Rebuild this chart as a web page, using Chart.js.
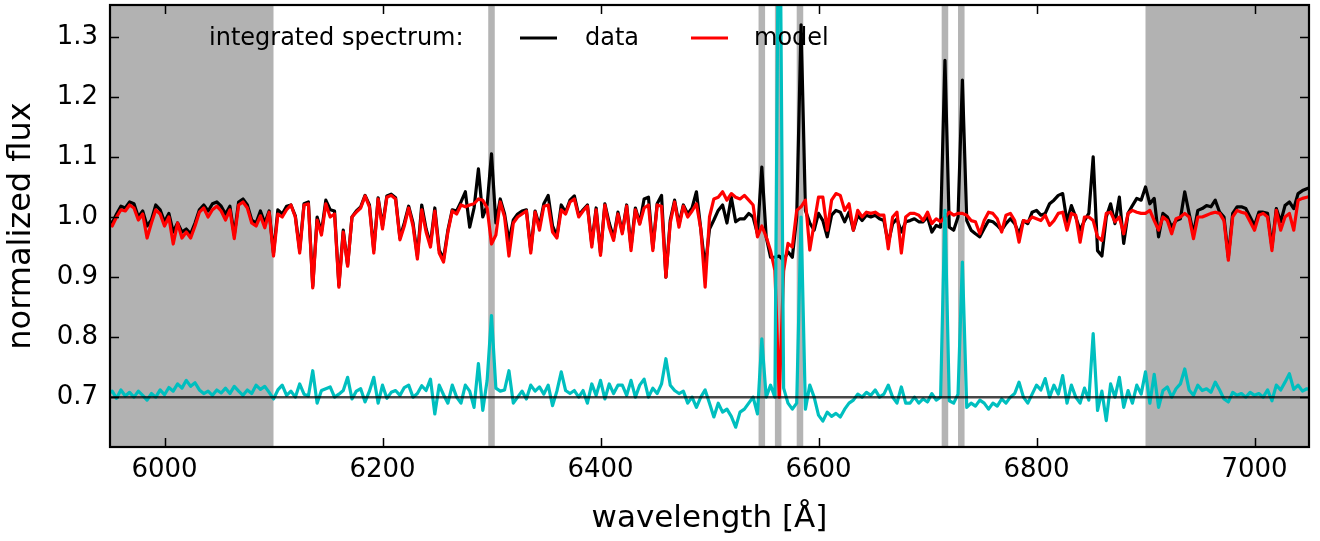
<!DOCTYPE html>
<html><head><meta charset="utf-8">
<script src="https://cdn.jsdelivr.net/npm/chart.js@4/dist/chart.umd.min.js"></script>
<style>html,body{margin:0;padding:0;background:#fff;}canvas{display:block;}</style>
</head><body>
<canvas id="c" width="1320" height="541"></canvas>
<script>
// wavelength grid [Angstrom]
const wavelength = [
5948,5952,5956,5960,5964,5968,5972,5976,5980,5984,5988,5992,5996,6000,6004,6008,6012,6016,6020,6024,6028,6032,6036,6040,6044,
6048,6052,6056,6060,6064,6068,6072,6076,6080,6084,6088,6092,6096,6100,6104,6108,6112,6116,6120,6124,6128,6132,6136,6140,6144,
6148,6152,6156,6160,6164,6168,6172,6176,6180,6184,6188,6192,6196,6200,6204,6208,6212,6216,6220,6224,6228,6232,6236,6240,6244,
6248,6252,6256,6260,6264,6268,6272,6276,6280,6284,6288,6292,6296,6300,6304,6308,6312,6316,6320,6324,6328,6332,6336,6340,6344,
6348,6352,6356,6360,6364,6368,6372,6376,6380,6384,6388,6392,6396,6400,6404,6408,6412,6416,6420,6424,6428,6432,6436,6440,6444,
6448,6452,6456,6460,6464,6468,6472,6476,6480,6484,6488,6492,6496,6500,6504,6508,6512,6516,6520,6524,6528,6532,6536,6540,6544,
6548,6552,6556,6560,6564,6568,6572,6576,6580,6584,6588,6592,6596,6600,6604,6608,6612,6616,6620,6624,6628,6632,6636,6640,6644,
6648,6652,6656,6660,6664,6668,6672,6676,6680,6684,6688,6692,6696,6700,6704,6708,6712,6716,6720,6724,6728,6732,6736,6740,6744,
6748,6752,6756,6760,6764,6768,6772,6776,6780,6784,6788,6792,6796,6800,6804,6808,6812,6816,6820,6824,6828,6832,6836,6840,6844,
6848,6852,6856,6860,6864,6868,6872,6876,6880,6884,6888,6892,6896,6900,6904,6908,6912,6916,6920,6924,6928,6932,6936,6940,6944,
6948,6952,6956,6960,6964,6968,6972,6976,6980,6984,6988,6992,6996,7000,7004,7008,7012,7016,7020,7024,7028,7032,7036,7040,7044,
7048,7052];

// observed integrated spectrum (black)
const dataFlux = [
0.995,0.99,1.005,1.018,1.015,1.025,1.022,1.0,1.01,0.985,0.995,1.02,1.012,0.992,1.006,0.975,0.99,0.975,0.98,0.972,0.99,1.012,1.02,1.01,1.022,
1.025,1.018,1.005,1.018,0.97,1.025,1.03,1.02,0.995,0.99,1.01,0.99,1.01,0.94,1.012,1.005,1.018,1.02,1.002,0.945,1.022,1.025,0.885,1.0,0.975,
1.028,1.012,1.01,0.886,0.978,0.92,1.0,1.01,1.017,1.036,1.02,0.945,1.032,0.985,1.035,1.038,1.032,0.965,0.99,1.018,0.99,0.935,1.02,0.98,0.955,
1.015,0.945,0.93,0.978,1.012,1.01,1.025,1.042,0.983,1.015,1.08,1.0,1.02,1.105,0.99,1.03,1.005,0.96,0.995,1.005,1.01,1.012,0.945,1.01,0.985,
1.022,1.036,0.985,0.968,1.02,1.008,1.028,1.035,1.003,1.012,1.02,0.955,1.015,0.94,1.022,0.99,0.965,1.008,0.975,1.02,0.95,1.015,0.99,1.03,1.033,
0.948,1.022,1.036,0.9,0.995,1.028,0.988,1.02,1.005,1.015,1.042,0.98,0.915,0.98,0.995,1.011,1.02,0.99,1.033,0.992,0.997,0.997,1.006,1.0,0.972,
1.083,0.967,0.933,0.933,0.935,0.928,0.942,0.933,1.0,1.32,1.011,0.99,0.978,1.006,0.994,0.967,1.003,1.011,1.008,0.992,1.008,0.978,1.003,0.994,1.003,
1.0,1.003,0.997,0.994,0.956,0.989,0.997,0.975,0.992,0.994,0.997,0.992,0.992,1.0,0.975,0.986,0.983,1.261,0.983,0.978,1.0,1.228,0.994,0.978,0.972,
0.967,0.981,0.994,0.992,0.986,0.978,0.989,0.997,0.989,0.972,0.994,0.989,1.008,1.011,1.003,1.006,1.022,1.028,1.036,1.039,0.992,1.019,1.0,0.978,0.994,
1.006,1.1,0.944,0.935,1.0,1.022,0.989,1.033,0.956,1.006,1.019,1.031,1.028,1.05,1.022,1.031,0.967,1.006,1.0,0.983,0.994,0.997,1.042,1.006,0.972,
1.011,1.014,1.019,1.017,1.028,1.008,1.0,0.933,1.006,1.017,1.017,1.014,1.0,0.986,1.008,1.008,1.006,0.95,1.014,0.992,1.019,1.025,1.014,1.039,1.044,
1.047,1.05];

// best-fit model (red)
const modelFlux = [
0.99,0.985,1.0,1.012,1.01,1.02,1.015,0.995,1.005,0.965,0.99,1.012,1.005,0.985,1.0,0.955,0.99,0.965,0.975,0.965,0.985,1.008,1.015,1.0,1.012,
1.018,1.01,0.995,1.012,0.964,1.02,1.025,1.015,0.99,0.985,1.002,0.982,1.008,0.935,1.005,1.0,1.012,1.02,1.0,0.94,1.02,1.022,0.882,0.995,0.97,
1.022,1.0,1.005,0.883,0.975,0.918,1.0,1.008,1.015,1.035,1.017,0.94,1.03,0.98,1.033,1.036,1.03,0.962,0.985,1.015,0.985,0.93,1.012,0.975,0.95,
1.01,0.94,0.925,0.975,1.01,1.005,1.02,1.017,1.02,1.022,1.03,1.028,1.015,0.955,0.97,1.025,1.0,0.935,0.99,1.0,1.005,1.01,0.94,1.008,0.978,
1.018,1.02,0.975,0.965,1.012,1.005,1.025,1.03,1.0,1.01,1.018,0.95,1.012,0.936,1.02,0.983,0.961,1.005,0.972,1.018,0.944,1.012,0.988,1.015,1.02,
0.944,1.02,1.018,0.9,0.99,1.025,0.983,1.018,1.0,1.01,1.022,0.98,0.883,1.0,1.03,1.033,1.042,1.028,1.039,1.033,1.03,1.036,1.028,1.02,0.967,
0.985,0.967,0.944,0.911,0.7,0.91,0.956,0.95,1.011,1.017,1.028,0.945,0.989,1.033,1.033,0.978,1.028,1.039,1.036,1.011,1.022,0.978,1.011,1.0,1.008,
1.006,1.008,1.003,1.003,0.947,1.0,1.008,0.94,1.0,1.006,1.006,1.003,0.994,1.008,0.989,0.997,0.992,1.0,1.008,1.003,1.006,1.006,1.003,0.994,0.992,
0.972,0.994,1.008,1.006,0.997,0.975,1.003,1.006,0.994,0.958,0.994,0.992,1.0,0.997,0.994,1.003,0.986,0.994,1.006,1.008,0.978,1.006,1.003,0.958,1.0,
1.0,0.994,0.967,0.961,1.006,1.008,0.992,1.0,0.972,1.006,1.011,1.008,1.006,1.006,1.011,0.994,0.978,1.0,0.994,0.972,0.997,1.0,1.006,1.0,0.964,
1.0,1.0,1.003,1.006,1.008,1.006,0.994,0.928,1.0,1.011,1.008,1.006,0.992,0.978,1.003,1.006,1.0,0.944,1.011,0.978,1.0,1.006,0.978,1.028,1.031,
1.033,1.035];

// residual, shifted to the 0.7 level (cyan)
const residualFlux = [
0.705,0.71,0.698,0.712,0.702,0.708,0.7,0.71,0.703,0.695,0.706,0.7,0.712,0.704,0.716,0.71,0.722,0.715,0.728,0.718,0.724,0.712,0.706,0.71,0.703,
0.712,0.707,0.715,0.706,0.718,0.71,0.703,0.712,0.706,0.72,0.713,0.718,0.708,0.697,0.712,0.72,0.703,0.71,0.7,0.722,0.705,0.702,0.744,0.69,0.711,
0.714,0.717,0.7,0.705,0.711,0.733,0.697,0.71,0.714,0.692,0.71,0.733,0.69,0.72,0.698,0.708,0.711,0.703,0.716,0.72,0.7,0.706,0.719,0.711,0.73,
0.672,0.72,0.704,0.69,0.72,0.7,0.69,0.72,0.71,0.683,0.756,0.678,0.728,0.836,0.715,0.71,0.712,0.744,0.69,0.7,0.71,0.697,0.72,0.71,0.717,
0.705,0.72,0.686,0.71,0.742,0.711,0.706,0.711,0.7,0.711,0.69,0.722,0.703,0.728,0.697,0.722,0.706,0.72,0.72,0.703,0.728,0.7,0.72,0.73,0.7,
0.715,0.706,0.722,0.764,0.72,0.711,0.706,0.71,0.69,0.7,0.683,0.7,0.712,0.69,0.667,0.69,0.675,0.68,0.668,0.65,0.675,0.68,0.69,0.7,0.672,
0.797,0.7,0.72,0.7,1.7,0.715,0.69,0.68,0.69,1.0,0.68,0.72,0.7,0.67,0.66,0.675,0.668,0.673,0.667,0.68,0.69,0.695,0.705,0.7,0.708,
0.703,0.712,0.7,0.705,0.72,0.7,0.69,0.717,0.69,0.69,0.7,0.69,0.697,0.692,0.706,0.695,0.7,1.011,0.694,0.69,0.705,0.925,0.683,0.69,0.685,
0.695,0.69,0.68,0.69,0.685,0.697,0.69,0.7,0.706,0.725,0.7,0.69,0.705,0.72,0.712,0.731,0.7,0.72,0.705,0.736,0.69,0.72,0.7,0.69,0.715,
0.695,0.806,0.678,0.71,0.661,0.722,0.7,0.733,0.683,0.711,0.69,0.72,0.705,0.742,0.69,0.738,0.683,0.711,0.717,0.7,0.714,0.722,0.747,0.712,0.703,
0.72,0.711,0.714,0.708,0.725,0.712,0.697,0.692,0.708,0.703,0.706,0.7,0.708,0.703,0.706,0.7,0.712,0.694,0.72,0.712,0.725,0.739,0.713,0.72,0.71,
0.714,0.712];

// zero level of the residual
const residualLevelX = [5950, 7050];
const residualLevelY = [0.7, 0.7];

// masked wavelength ranges and emission-line masks
const maskedRanges = [[5950, 6100], [6900, 7050]];
const emissionLines = [6300, 6548, 6563, 6583, 6716, 6731];
const lineMaskHalfWidth = 3;

// ticks
const xTicks = [6000, 6200, 6400, 6600, 6800, 7000];
const yTicks = [0.7, 0.8, 0.9, 1.0, 1.1, 1.2, 1.3];

// texts
const legendTitle = 'integrated spectrum:';
const seriesNames = ['data', 'model'];
const xTitle = 'wavelength [\u00C5]';
const yTitle = 'normalized flux';

const FONT = "'DejaVu Sans', sans-serif";
const pts = (xs, ys) => xs.map((x, i) => ({x: x, y: ys[i]}));

const decor = {
  id: 'decor',
  beforeDatasetsDraw(chart) {
    const {ctx, chartArea: a, scales: {x}} = chart;
    ctx.save();
    ctx.beginPath(); ctx.rect(a.left, a.top, a.width, a.height); ctx.clip();
    ctx.fillStyle = '#b2b2b2';
    maskedRanges.forEach(([l, r]) => {
      const x0 = x.getPixelForValue(l), x1 = x.getPixelForValue(r);
      ctx.fillRect(x0, a.top, x1 - x0, a.height);
    });
    ctx.fillStyle = '#b4b4b4';
    emissionLines.forEach(c => {
      const x0 = x.getPixelForValue(c - lineMaskHalfWidth), x1 = x.getPixelForValue(c + lineMaskHalfWidth);
      ctx.fillRect(x0, a.top, x1 - x0, a.height);
    });
    ctx.restore();
  },
  afterDatasetsDraw(chart) {
    const {ctx, chartArea: a, scales: {x, y}} = chart;
    ctx.save();
    // inner tick marks on all four sides
    ctx.strokeStyle = '#000';
    ctx.lineWidth = 1.5;
    const tl = 9;
    ctx.beginPath();
    xTicks.forEach(v => {
      const px = Math.round(x.getPixelForValue(v)) + 0.5;
      ctx.moveTo(px, a.bottom); ctx.lineTo(px, a.bottom - tl);
      ctx.moveTo(px, a.top); ctx.lineTo(px, a.top + tl);
    });
    yTicks.forEach(v => {
      const py = Math.round(y.getPixelForValue(v)) + 0.5;
      ctx.moveTo(a.left, py); ctx.lineTo(a.left + tl, py);
      ctx.moveTo(a.right, py); ctx.lineTo(a.right - tl, py);
    });
    ctx.stroke();
    // frame
    ctx.lineWidth = 2.2;
    ctx.strokeRect(a.left, a.top, a.width, a.height);
    // legend
    ctx.font = '24px ' + FONT;
    ctx.fillStyle = '#000';
    ctx.textBaseline = 'middle';
    ctx.textAlign = 'left';
    const ly = 39;
    ctx.fillText(legendTitle, 209, ly);
    ctx.lineWidth = 3;
    ctx.strokeStyle = '#000';
    ctx.beginPath(); ctx.moveTo(520, ly - 1); ctx.lineTo(557, ly - 1); ctx.stroke();
    ctx.fillText(seriesNames[0], 585, ly);
    ctx.strokeStyle = '#ff0000';
    ctx.beginPath(); ctx.moveTo(691, ly - 1); ctx.lineTo(728, ly - 1); ctx.stroke();
    ctx.fillText(seriesNames[1], 754, ly);
    ctx.restore();
  }
};

new Chart(document.getElementById('c'), {
  type: 'line',
  data: {
    datasets: [
      {label: seriesNames[0], data: pts(wavelength, dataFlux), borderColor: '#000000', borderWidth: 3.2, order: 3},
      {label: seriesNames[1], data: pts(wavelength, modelFlux), borderColor: '#ff0000', borderWidth: 3.2, order: 2},
      {label: 'residual', data: pts(wavelength, residualFlux), borderColor: '#00bfbf', borderWidth: 3.2, order: 1},
      {label: 'level', data: pts(residualLevelX, residualLevelY), borderColor: 'rgba(0,0,0,0.72)', borderWidth: 2.5, order: 0}
    ]
  },
  options: {
    responsive: false,
    animation: false,
    devicePixelRatio: 1,
    layout: {padding: {top: 5, right: 11, left: 0, bottom: 0}},
    elements: {
      point: {radius: 0, hoverRadius: 0},
      line: {tension: 0, borderJoinStyle: 'round', borderCapStyle: 'butt', fill: false}
    },
    datasets: {line: {clip: 0}},
    plugins: {legend: {display: false}, tooltip: {enabled: false}},
    events: [],
    scales: {
      x: {
        type: 'linear', min: 5950, max: 7050,
        afterBuildTicks: s => { s.ticks = xTicks.map(v => ({value: v})); },
        afterFit: s => { s.height = 94; s.paddingLeft = 0; s.paddingRight = 0; },
        grid: {display: false, drawTicks: false},
        border: {display: false},
        ticks: {font: {family: FONT, size: 26}, color: '#000', padding: 8, maxRotation: 0, autoSkip: false,
                callback: v => String(v)},
        title: {display: true, text: xTitle, font: {family: FONT, size: 31}, color: '#000', padding: {top: 0, bottom: 3}}
      },
      y: {
        type: 'linear', min: 0.617, max: 1.353,
        afterBuildTicks: s => { s.ticks = yTicks.map(v => ({value: v})); },
        afterFit: s => { s.width = 110; s.paddingTop = 0; s.paddingBottom = 0; },
        grid: {display: false, drawTicks: false},
        border: {display: false},
        ticks: {font: {family: FONT, size: 26}, color: '#000', padding: 12, autoSkip: false,
                callback: v => Number(v).toFixed(1)},
        title: {display: true, text: yTitle, font: {family: FONT, size: 32}, color: '#000', padding: {top: 2, bottom: 0}}
      }
    }
  },
  plugins: [decor]
});
</script>
</body></html>
